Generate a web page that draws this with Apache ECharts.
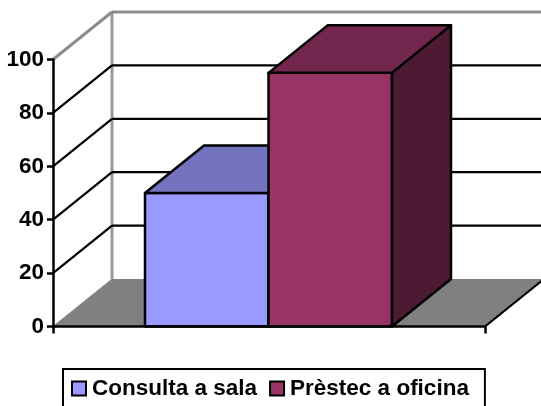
<!DOCTYPE html>
<html><head><meta charset="utf-8">
<style>html,body{margin:0;padding:0;background:#fff}#c{width:541px;height:406px}</style>
<script src="https://cdn.jsdelivr.net/npm/echarts@6/dist/echarts.min.js"></script>
</head><body><div id="c"></div>
<script>
var categories = [''];
var consultaSala = [50];
var prestecOficina = [95];
var yTicks = [0, 20, 40, 60, 80, 100];
var seriesNames = ['Consulta a sala', 'Prèstec a oficina'];

var DX = 59, DY = -47.5;          // oblique depth of the 3D box
var GAP = 92 / 432, BAR = 123.5 / 432;

function poly(points, fill, stroke, w) {
  return {type: 'polygon', shape: {points: points},
    style: {fill: fill, stroke: stroke || null, lineWidth: w || 0, lineJoin: 'round'}};
}
function seg(x1, y1, x2, y2, color, w) {
  return {type: 'line', shape: {x1: x1, y1: y1, x2: x2, y2: y2},
    style: {stroke: color, lineWidth: w, fill: null}};
}
function bar3d(index, front, top, side) {
  return function (params, api) {
    var band = api.size([1, 0])[0];
    var c = api.coord([api.value(0), api.value(1)]);
    var y0 = api.coord([api.value(0), 0])[1];
    var x0 = c[0] - band / 2 + band * (GAP + BAR * index);
    var x1 = x0 + band * BAR, y1 = c[1];
    return {type: 'group', children: [
      poly([[x0, y0], [x1, y0], [x1, y1], [x0, y1]], front, '#000', 2.5),
      poly([[x0, y1], [x1, y1], [x1 + DX, y1 + DY], [x0 + DX, y1 + DY]], top, '#000', 2.5),
      poly([[x1, y0], [x1 + DX, y0 + DY], [x1 + DX, y1 + DY], [x1, y1]], side, '#000', 2.5)
    ]};
  };
}
function wallLine(params, api) {
  var v = api.value(0);
  var p = api.coord([0, v]);
  var band = api.size([1, 0])[0];
  var l = p[0] - band / 2, r = p[0] + band / 2;
  var col = v === 100 ? '#8c8c8c' : '#000';
  var w = v === 100 ? 3 : 2.2;
  if (v === 0) {
    return {type: 'group', children: [
      poly([[l, p[1]], [r, p[1]], [r + DX, p[1] + DY], [l + DX, p[1] + DY]], '#808080'),
      seg(l, p[1], l + DX, p[1] + DY, '#8c8c8c', 1),
      seg(r, p[1], r + DX, p[1] + DY, '#000', 2.2),
      seg(l + DX, p[1] + DY, l + DX, api.coord([0, 100])[1] + DY, '#999', 3)
    ]};
  }
  return {type: 'group', children: [
    seg(l, p[1], l + DX, p[1] + DY, col, w),
    seg(l + DX, p[1] + DY, r + DX, p[1] + DY, col, w)
  ]};
}

var chart = echarts.init(document.getElementById('c'), null, {renderer: 'canvas'});
chart.setOption({
  animation: false,
  backgroundColor: '#fff',
  grid: {left: 53, right: 56, top: 59.5, height: 267, containLabel: false},
  legend: {
    data: seriesNames, left: 63, top: 369, orient: 'horizontal',
    padding: [8, 16, 30, 8], itemGap: 12, itemWidth: 14, itemHeight: 14,
    borderColor: '#000', borderWidth: 2, backgroundColor: '#fff',
    icon: 'rect', selectedMode: false,
    textStyle: {fontFamily: 'Liberation Sans', fontWeight: 'bold', fontSize: 22.5, color: '#000', padding: [0, 0, 0, 1]}
  },
  xAxis: {
    type: 'category', data: categories, z: 10,
    axisLine: {lineStyle: {color: '#000', width: 2.5}},
    axisTick: {show: true, length: 7, lineStyle: {color: '#000', width: 2.5}},
    axisLabel: {show: false}, splitLine: {show: false}
  },
  yAxis: {
    type: 'value', min: 0, max: 100, interval: 20, z: 10,
    axisLine: {show: true, lineStyle: {color: '#000', width: 2.5}},
    axisTick: {show: true, length: 6, lineStyle: {color: '#000', width: 2.5}},
    axisLabel: {margin: 9, padding: [2, 0, 0, 0], fontFamily: 'Liberation Sans', fontWeight: 'bold', fontSize: 22.5, color: '#000'},
    splitLine: {show: false}
  },
  series: [
    {type: 'custom', z: 1, silent: true, clip: false, renderItem: wallLine,
      data: yTicks.map(function (t) { return [t]; }), encode: {y: 0}},
    {type: 'custom', name: seriesNames[0], z: 3, clip: false,
      itemStyle: {color: '#9999FF', borderColor: '#000', borderWidth: 2.5},
      renderItem: bar3d(0, '#9999FF', '#7373BF', '#4D4D80'),
      data: categories.map(function (c, i) { return [i, consultaSala[i]]; }), encode: {x: 0, y: 1}},
    {type: 'custom', name: seriesNames[1], z: 3, clip: false,
      itemStyle: {color: '#993366', borderColor: '#000', borderWidth: 2.5},
      renderItem: bar3d(1, '#993366', '#73264D', '#4D1A33'),
      data: categories.map(function (c, i) { return [i, prestecOficina[i]]; }), encode: {x: 0, y: 1}}
  ]
});
</script></body></html>
